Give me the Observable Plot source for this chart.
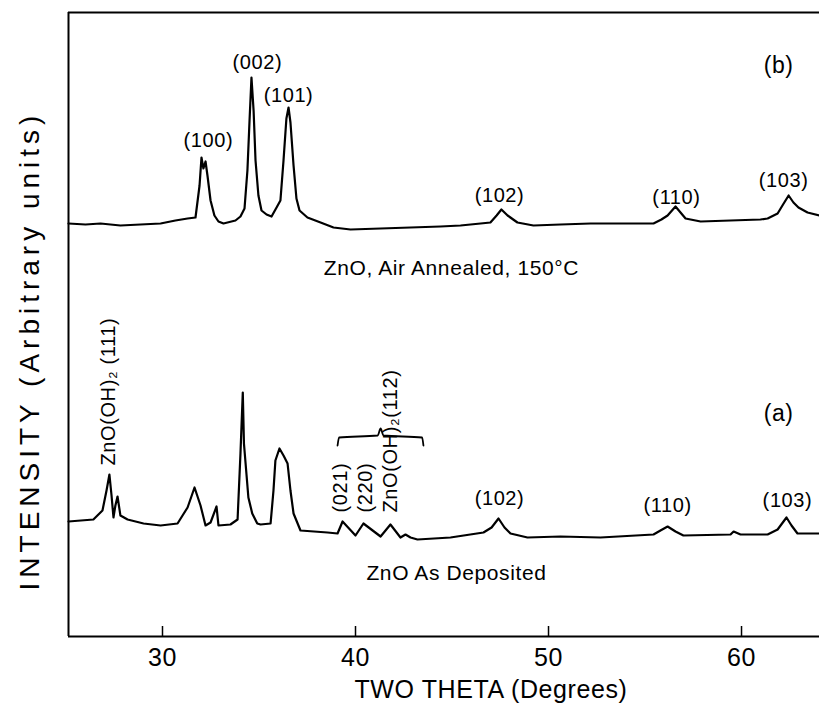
<!DOCTYPE html>
<html><head><meta charset="utf-8">
<script src="https://cdn.jsdelivr.net/npm/d3@7"></script>
<script src="https://cdn.jsdelivr.net/npm/@observablehq/plot@0.6"></script>
<style>body{margin:0;background:#fff} #chart svg{display:block}</style>
</head><body><div id="chart"></div>
<script>
// Curve (b): ZnO, air annealed 150°C  (two theta in degrees, intensity in arbitrary units)
const twoTheta_b = [25.13,26.01,26.79,27.82,28.86,29.90,30.67,31.30,31.71,31.92,32.02,32.12,32.23,32.33,32.49,32.69,32.90,33.16,33.78,34.04,34.25,34.40,34.51,34.61,34.72,34.82,34.97,35.13,35.39,35.65,35.91,36.11,36.27,36.42,36.53,36.63,36.79,36.94,37.10,37.51,38.19,38.86,39.74,41.30,42.85,44.40,45.44,46.48,46.99,47.31,47.56,47.88,48.39,49.22,50.62,52.18,53.73,55.44,55.85,56.17,56.58,56.84,57.10,57.88,59.43,60.98,61.35,61.87,62.12,62.44,62.69,62.95,63.42,64.04];
const intensity_b = [413,412,413,411,412,413,416,418,419,451,479,468,475,461,436,421,415,413,416,420,428,466,516,559,526,476,441,426,422,420,429,436,476,518,529,514,471,438,426,419,414,409,407,408,409,410,411,413,414,421,427,421,414,411,412,413,413,413,417,421,430,424,418,415,416,417,418,423,431,441,434,429,424,421];
// Curve (a): ZnO as deposited
const twoTheta_a = [25.13,26.42,26.89,27.10,27.25,27.36,27.46,27.56,27.67,27.82,28.19,29.02,29.90,30.78,31.30,31.66,31.97,32.23,32.49,32.80,32.90,33.52,33.89,34.04,34.16,34.22,34.45,34.65,34.91,35.08,35.60,35.75,35.85,36.06,36.27,36.48,36.63,36.79,37.15,38.55,39.07,39.33,40.00,40.41,41.30,41.81,42.33,42.59,42.85,43.21,44.92,46.63,47.05,47.41,47.72,48.03,48.91,50.62,52.69,55.44,55.80,56.17,56.58,56.99,59.43,59.59,59.95,61.35,61.87,62.33,62.59,62.90,64.04];
const intensity_a = [115,117,126,146,162,141,119,131,140,121,117,113,111,113,129,149,131,111,114,130,111,112,117,183,244,193,139,123,113,112,113,146,176,188,181,173,146,123,106,104,103,115,101,113,100,112,99,102,99,97,99,104,109,118,109,103,99,100,99,102,106,110,105,101,102,105,102,102,107,119,111,103,103];

const xTicks = [30, 40, 50, 60];
const xDomain = [25.13, 64.04];
const yDomain = [0, 624];

// Peak annotations
const labels_b = ["(100)", "(002)", "(101)", "(102)", "(110)", "(103)"];
const labelX_b = [32.38, 34.92, 36.53, 47.46, 56.63, 62.18];
const labelY_b = [496, 574, 541, 441, 439, 456];
const labels_a = ["(102)", "(110)", "(103)"];
const labelX_a = [47.46, 56.17, 62.38];
const labelY_a = [138, 131, 136];
const vLabels_a = ["ZnO(OH)\u2082 (111)", "(021)", "(220)", "ZnO(OH)\u2082(112)"];
const vLabelX_a = [27.20, 39.22, 40.52, 41.81];
const vLabelY_a = [171, 124, 124, 124];
const panelTags = ["(b)", "(a)"];
const panelTagX = [61.92, 61.92];
const panelTagY = [571, 223];
const captions = ["ZnO, Air Annealed, 150\u00B0C", "ZnO As Deposited"];
const captionX = [44.97, 45.23];
const captionY = [368, 63];
const braceX = [39.07, 39.15, 41.15, 41.30, 41.45, 43.45, 43.52];
const braceY = [191, 199, 201, 208, 201, 199, 191];

const xTitle = "TWO THETA (Degrees)";
const yTitle = "INTENSITY (Arbitrary units)";

const seriesB = twoTheta_b.map((x, i) => ({x, y: intensity_b[i]}));
const seriesA = twoTheta_a.map((x, i) => ({x, y: intensity_a[i]}));
const rows = (t, xs, ys) => t.map((text, i) => ({text, x: xs[i], y: ys[i]}));
const brace = braceX.map((x, i) => ({x, y: braceY[i]}));

const font = "'Liberation Sans', Arial, sans-serif";
const plot = Plot.plot({
  width: 819, height: 709,
  marginLeft: 68, marginRight: 0, marginTop: 12, marginBottom: 73,
  style: {fontFamily: font, color: "#000", background: "#fff", overflow: "visible", letterSpacing: "0.6px"},
  x: {domain: xDomain},
  y: {domain: yDomain, axis: null},
  marks: [
    Plot.ruleX([xDomain[0]], {stroke: "#000", strokeWidth: 2}),
    Plot.ruleY(yDomain, {stroke: "#000", strokeWidth: 2}),
    Plot.axisX(xTicks, {tickSize: -10, tickFormat: () => "", label: null, strokeWidth: 1.5}),
    Plot.axisX(xTicks, {tickSize: 0, tickPadding: 12, fontSize: 25, label: null}),
    Plot.line(seriesB, {x: "x", y: "y", stroke: "#000", strokeWidth: 2.2}),
    Plot.line(seriesA, {x: "x", y: "y", stroke: "#000", strokeWidth: 2.2}),
    Plot.line(brace, {x: "x", y: "y", stroke: "#000", strokeWidth: 1.8, curve: "monotone-x"}),
    Plot.text(rows(labels_b, labelX_b, labelY_b), {x: "x", y: "y", text: "text", fontSize: 20}),
    Plot.text(rows(labels_a, labelX_a, labelY_a), {x: "x", y: "y", text: "text", fontSize: 20}),
    Plot.text(rows(vLabels_a, vLabelX_a, vLabelY_a), {x: "x", y: "y", text: "text", fontSize: 20, rotate: -90, textAnchor: "start"}),
    Plot.text(rows(panelTags, panelTagX, panelTagY), {x: "x", y: "y", text: "text", fontSize: 23}),
    Plot.text(rows(captions, captionX, captionY), {x: "x", y: "y", text: "text", fontSize: 21}),
    Plot.text([xTitle], {frameAnchor: "bottom", dx: 47, dy: 61, fontSize: 25}),
    Plot.text([yTitle], {frameAnchor: "left", textAnchor: "middle", rotate: -90, dx: -38, dy: 26, fontSize: 28})
  ]
});
// wider tracking on the rotated y title, as in the plotter lettering
const groups = plot.querySelectorAll('g[aria-label="text"]');
groups[groups.length - 1].setAttribute("letter-spacing", "5px");
groups[groups.length - 1].style.letterSpacing = "5px";
document.getElementById("chart").appendChild(plot);
</script>
</body></html>
